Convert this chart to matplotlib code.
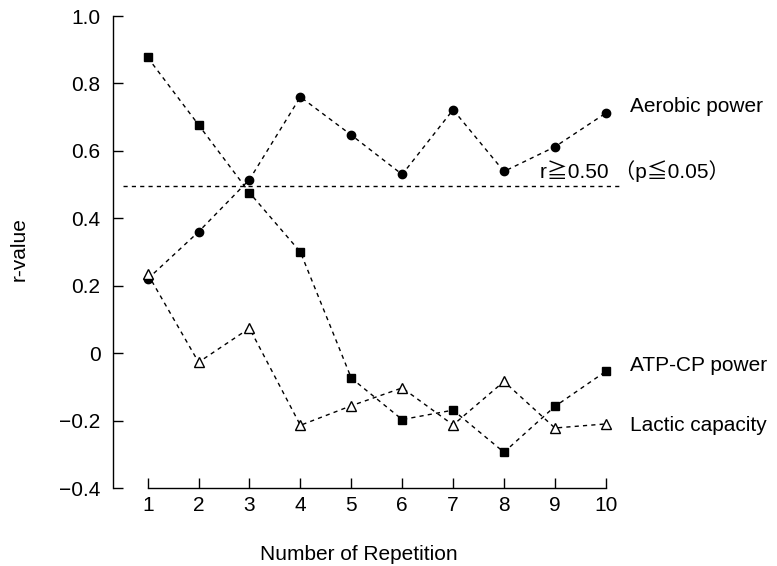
import matplotlib
matplotlib.use("Agg")
import matplotlib.pyplot as plt

repetition = [1, 2, 3, 4, 5, 6, 7, 8, 9, 10]
aerobic_power = [0.22, 0.36, 0.515, 0.76, 0.647, 0.53, 0.722, 0.539, 0.612, 0.712]
atp_cp_power = [0.877, 0.677, 0.476, 0.30, -0.074, -0.197, -0.169, -0.294, -0.158, -0.054]
lactic_capacity = [0.235, -0.027, 0.074, -0.214, -0.156, -0.103, -0.213, -0.084, -0.222, -0.21]
threshold = 0.495
y_ticks = [-0.4, -0.2, 0, 0.2, 0.4, 0.6, 0.8, 1.0]
y_tick_labels = ["\u22120.4", "\u22120.2", "0", "0.2", "0.4", "0.6", "0.8", "1.0"]

FONT = ["Liberation Sans", "Noto Sans CJK JP", "DejaVu Sans"]
plt.rcParams["font.family"] = FONT

fig = plt.figure(figsize=(7.77, 5.66), dpi=100)
ax = fig.add_axes([0.1454, 0.1378, 0.6539, 0.8339])

line_kw = dict(color="black", linewidth=1.0, linestyle=(0, (3.0, 3.0)))
ax.plot(repetition, aerobic_power, marker="o", markersize=6, markerfacecolor="black",
        markeredgecolor="black", **line_kw)
ax.plot(repetition, atp_cp_power, marker="s", markersize=6, markerfacecolor="black",
        markeredgecolor="black", **line_kw)
ax.plot(repetition, lactic_capacity, marker="^", markersize=7, markerfacecolor="white",
        markeredgecolor="black", markeredgewidth=1.0, **line_kw)

ax.plot([0.515, 10.28], [threshold, threshold], **line_kw)

ax.set_xlim(0.318, 10.3)
ax.set_ylim(-0.4, 1.0)

for s in ["top", "right"]:
    ax.spines[s].set_visible(False)
ax.spines["left"].set_bounds(-0.4, 1.0)
ax.spines["bottom"].set_bounds(1, 10)
for s in ["left", "bottom"]:
    ax.spines[s].set_linewidth(1.0)

ax.set_xticks(repetition)
ax.set_xticklabels([str(v) for v in repetition])
ax.set_yticks(y_ticks)
ax.set_yticklabels(y_tick_labels)
ax.tick_params(axis="y", direction="in", length=7, width=1.0, pad=9, labelsize=15)
ax.tick_params(axis="x", direction="in", length=7, width=1.0, pad=6, labelsize=15)

label_kw = dict(fontsize=15, va="center", ha="left", clip_on=False)
ax.text(10.475, 0.733, "Aerobic power", **label_kw)
ax.text(10.475, -0.038, "ATP-CP power", **label_kw)
ax.text(10.475, -0.216, "Lactic capacity", **label_kw)
ax.text(8.707, 0.54, "r\u22670.50 \uff08p\u22660.05\uff09", **label_kw)

fig.text(19 / 777, 1 - 249 / 566, "r-value", rotation=90, fontsize=15,
         ha="center", va="center")
fig.text(359 / 777, 1 - 555 / 566, "Number of Repetition", fontsize=15,
         ha="center", va="center")

fig.savefig("out.png", dpi=100)
